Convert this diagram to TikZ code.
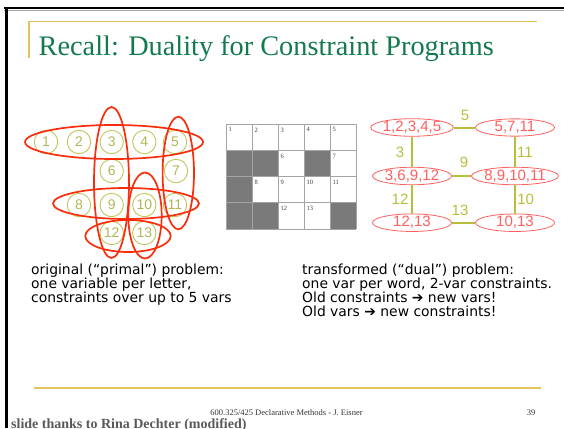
\documentclass[tikz,border=0pt]{standalone}
\usepackage{fontspec}
\setmainfont{Liberation Serif}
\newfontfamily\arialfont{Liberation Sans}
\newfontfamily\notefont{DejaVu Sans}
\usetikzlibrary{shapes.geometric}
\definecolor{titlegreen}{RGB}{20,122,78}
\definecolor{goldline}{RGB}{226,196,90}
\definecolor{olivevar}{RGB}{192,198,92}
\definecolor{hyperred}{RGB}{250,45,10}
\definecolor{dualred}{RGB}{255,95,95}
\definecolor{linkolive}{RGB}{184,190,60}
\definecolor{blackcell}{RGB}{122,122,122}
\definecolor{gridgray}{RGB}{165,165,165}

\begin{document}
\begin{tikzpicture}[x=1pt, y=-1pt,
  every node/.style={inner sep=0pt},
  var/.style={circle, draw=olivevar, line width=0.9pt, minimum size=23.4pt, text=olivevar!92!black, font=\arialfont\fontsize{14}{14}\selectfont},
  hyper/.style={draw=hyperred, line width=1.7pt},
  dualvar/.style={ellipse, draw=dualred, line width=0.8pt, minimum width=79pt, minimum height=15.6pt, text=dualred, font=\arialfont\fontsize{15}{15}\selectfont},
  link/.style={draw=linkolive, line width=2pt},
  wlabel/.style={text=linkolive, font=\arialfont\fontsize{15}{15}\selectfont},
  note/.style={align=left, anchor=north west, font=\notefont\fontsize{13.9}{13.8}\selectfont},
  cellnum/.style={anchor=north west, font=\fontsize{6.5}{6.5}\selectfont, text=black!75}
]
  \useasboundingbox (0,0) rectangle (564,428);

  \draw[line width=2.5pt] (4,8) -- (564,8);
  \draw[black!35, line width=0.8pt] (4,10) -- (564,10);
  \draw[line width=2.5pt] (6.5,6.75) -- (6.5,428);

  \draw[goldline, line width=1.2pt] (29,58) -- (29,21.5) -- (537,21.5);
  \node[anchor=base west, text=titlegreen, font=\fontsize{28.3}{28.3}\selectfont] (title) at (38.5,56) {Recall: Duality for Constraint Programs};

  \node[var] (v1) at (46,142) {1};
  \node[var] (v2) at (79,142) {2};
  \node[var] (v3) at (111.7,142) {3};
  \node[var] (v4) at (144.3,142) {4};
  \node[var] (v5) at (175,142) {5};
  \node[var] (v6) at (111.7,171) {6};
  \node[var] (v7) at (176,171) {7};
  \node[var] (v8) at (79,205) {8};
  \node[var] (v9) at (111.7,205) {9};
  \node[var] (v10) at (144.3,205) {10};
  \node[var] (v11) at (175,205) {11};
  \node[var] (v12) at (111.7,233) {12};
  \node[var] (v13) at (144.3,233) {13};

  \draw[hyper] (114,142) ellipse [x radius=89, y radius=17];
  \draw[hyper] (111.5,182.5) ellipse [x radius=17.5, y radius=75.5];
  \draw[hyper] (178.3,173) ellipse [x radius=15.7, y radius=56.3];
  \draw[hyper] (126,203.5) ellipse [x radius=73, y radius=15.5];
  \draw[hyper] (145,215.5) ellipse [x radius=16.7, y radius=43];
  \draw[hyper] (128,236) ellipse [x radius=42.7, y radius=16];

  \foreach \c/\r in {0/1,1/1,3/1,0/2,0/3,1/3,4/3}
    \fill[blackcell] (226+26*\c,124+26.25*\r) rectangle ++(26,26.25);
  \foreach \i in {0,...,5}
    \draw[gridgray, line width=0.8pt] (226+26*\i,124) -- (226+26*\i,229);
  \foreach \j in {0,...,4}
    \draw[gridgray, line width=0.8pt] (226,124+26.25*\j) -- (356,124+26.25*\j);
  \foreach \n/\c/\r in {1/0/0,2/1/0,3/2/0,4/3/0,5/4/0,6/2/1,7/4/1,8/1/2,9/2/2,10/3/2,11/4/2,12/2/3,13/3/3}
    \node[cellnum] (n\n) at (228.5+26*\c,127.5+26.25*\r) {\n};

  \node[dualvar] (d1) at (412,127.5) {1,2,3,4,5};
  \node[dualvar] (d2) at (515,127.5) {5,7,11};
  \node[dualvar] (d3) at (412,176) {3,6,9,12};
  \node[dualvar] (d4) at (515,176) {8,9,10,11};
  \node[dualvar] (d5) at (412,222.7) {12,13};
  \node[dualvar] (d6) at (515,222.7) {10,13};

  \draw[link] (d1) -- (d2);
  \draw[link] (d1) -- (d3);
  \draw[link] (d2) -- (d4);
  \draw[link] (d3) -- (d4);
  \draw[link] (d3) -- (d5);
  \draw[link] (d4) -- (d6);
  \draw[link] (d5) -- (d6);

  \node[wlabel] (w5) at (465,115) {5};
  \node[wlabel] (w3) at (400,152.7) {3};
  \node[wlabel] (w11) at (525,152.7) {11};
  \node[wlabel] (w9) at (464,162.7) {9};
  \node[wlabel] (w12) at (400,199.3) {12};
  \node[wlabel] (w10) at (525.7,199.3) {10};
  \node[wlabel] (w13) at (460,210) {13};

  \node[note] (primal) at (31,264) {original (“primal”) problem:\\one variable per letter,\\constraints over up to 5 vars};
  \node[note] (dual) at (302,264) {transformed (“dual”) problem:\\one var per word, 2-var constraints.\\Old constraints ➔ new vars!\\Old vars ➔ new constraints!};

  \draw[goldline, line width=2pt] (34,388) -- (540.7,388);
  \node[anchor=base, font=\fontsize{8.5}{8.5}\selectfont, text=black!80] (footer) at (286.5,415.5) {600.325/425 Declarative Methods - J.\ Eisner};
  \node[anchor=base, font=\fontsize{8.5}{8.5}\selectfont, text=black!80] (page) at (531,415.5) {39};
  \node[anchor=base west, font=\bfseries\fontsize{14}{14}\selectfont, text=black!65] (thanks) at (11,428) {slide thanks to Rina Dechter (modified)};
\end{tikzpicture}
\end{document}
